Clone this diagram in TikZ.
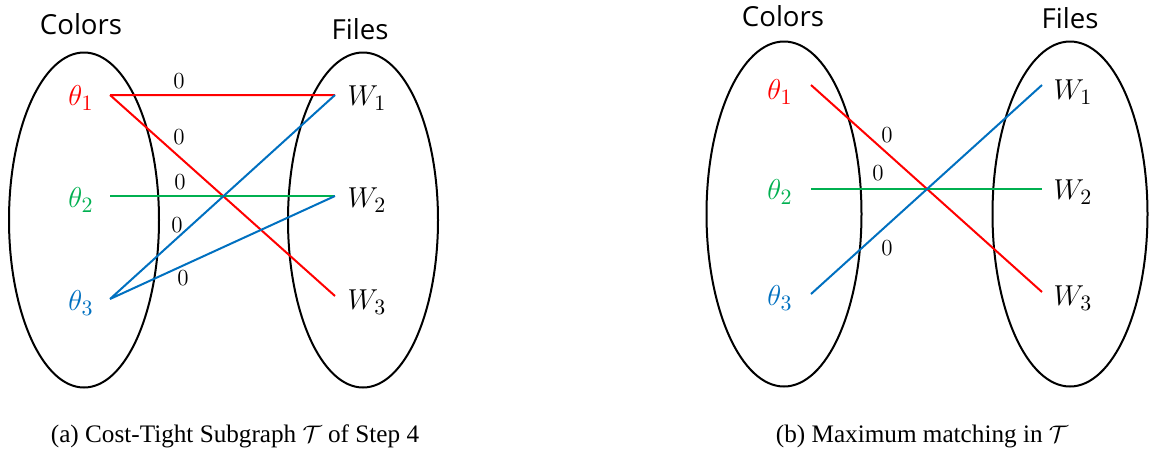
\documentclass[tikz,border=0pt]{standalone}
\usepackage{fontspec}
\setsansfont{Open Sans}
\newfontfamily\capfont{Liberation Serif}
\usetikzlibrary{shapes.geometric}
\definecolor{cred}{RGB}{255,0,0}
\definecolor{cgreen}{RGB}{0,176,80}
\definecolor{cblue}{RGB}{0,112,192}

\begin{document}
\begin{tikzpicture}[x=0.5pt,y=-0.5pt,
   group/.style={draw,ellipse,line width=1pt,inner sep=0pt,minimum width=75pt,minimum height=167.5pt},
   groupb/.style={group,minimum width=77.5pt,minimum height=172.5pt},
   title/.style={font=\sffamily\fontsize{13.8}{16}\selectfont},
   vtx/.style={font=\fontsize{15}{17}\selectfont},
   wt/.style={font=\fontsize{11.5}{13}\selectfont,inner sep=1pt},
   subcap/.style={font=\capfont\fontsize{12.6}{14}\selectfont},
   link/.style={line width=1pt}]
  \useasboundingbox (0,0) rectangle (1152,452);

  % (a) cost-tight subgraph
  \node[group] (colA) at (84,220) {};
  \node[group] (fileA) at (363,220) {};
  \node[title] (colTitleA) at (81,24) {Colors};
  \node[title] (fileTitleA) at (360,29) {Files};
  \node[vtx,text=cred] (thA1) at (81,98) {$\theta_1$};
  \node[vtx,text=cgreen] (thA2) at (81,200) {$\theta_2$};
  \node[vtx,text=cblue] (thA3) at (81,303) {$\theta_3$};
  \node[vtx] (wA1) at (367,98) {$W_1$};
  \node[vtx] (wA2) at (367,200) {$W_2$};
  \node[vtx] (wA3) at (367,302) {$W_3$};
  \coordinate (a1) at (110,95);
  \coordinate (a2) at (110,196);
  \coordinate (a3) at (110,299);
  \coordinate (b1) at (335,95);
  \coordinate (b2) at (335,196);
  \coordinate (b3) at (335,296);
  \draw[link,cred] (a1) -- (b1) (a1) -- (b3);
  \draw[link,cgreen] (a2) -- (b2);
  \draw[link,cblue] (a3) -- (b1) (a3) -- (b2);
  \node[wt] (cA1) at (179,81) {0};
  \node[wt] (cA2) at (179,137) {0};
  \node[wt] (cA3) at (180,182) {0};
  \node[wt] (cA4) at (177,225) {0};
  \node[wt] (cA5) at (183,278) {0};
  \node[subcap] (capA) at (235,436) {(a) Cost-Tight Subgraph $\mathcal{T}$ of Step 4};

  % (b) maximum matching
  \node[groupb] (colB) at (784,214) {};
  \node[groupb] (fileB) at (1070,214) {};
  \node[title] (colTitleB) at (783,16) {Colors};
  \node[title] (fileTitleB) at (1070,18) {Files};
  \node[vtx,text=cred] (thB1) at (780,92) {$\theta_1$};
  \node[vtx,text=cgreen] (thB2) at (780,192) {$\theta_2$};
  \node[vtx,text=cblue] (thB3) at (780,298) {$\theta_3$};
  \node[vtx] (wB1) at (1073,92) {$W_1$};
  \node[vtx] (wB2) at (1073,192) {$W_2$};
  \node[vtx] (wB3) at (1073,298) {$W_3$};
  \coordinate (c1) at (811,85);
  \coordinate (c2) at (811,189);
  \coordinate (c3) at (811,294);
  \coordinate (d1) at (1042,85);
  \coordinate (d2) at (1042,189);
  \coordinate (d3) at (1042,292);
  \draw[link,cred] (c1) -- (d3);
  \draw[link,cgreen] (c2) -- (d2);
  \draw[link,cblue] (c3) -- (d1);
  \node[wt] (cB1) at (887,135) {0};
  \node[wt] (cB2) at (878,173) {0};
  \node[wt] (cB3) at (887,248) {0};
  \node[subcap] (capB) at (922,436) {(b) Maximum matching in $\mathcal{T}$};
\end{tikzpicture}
\end{document}
